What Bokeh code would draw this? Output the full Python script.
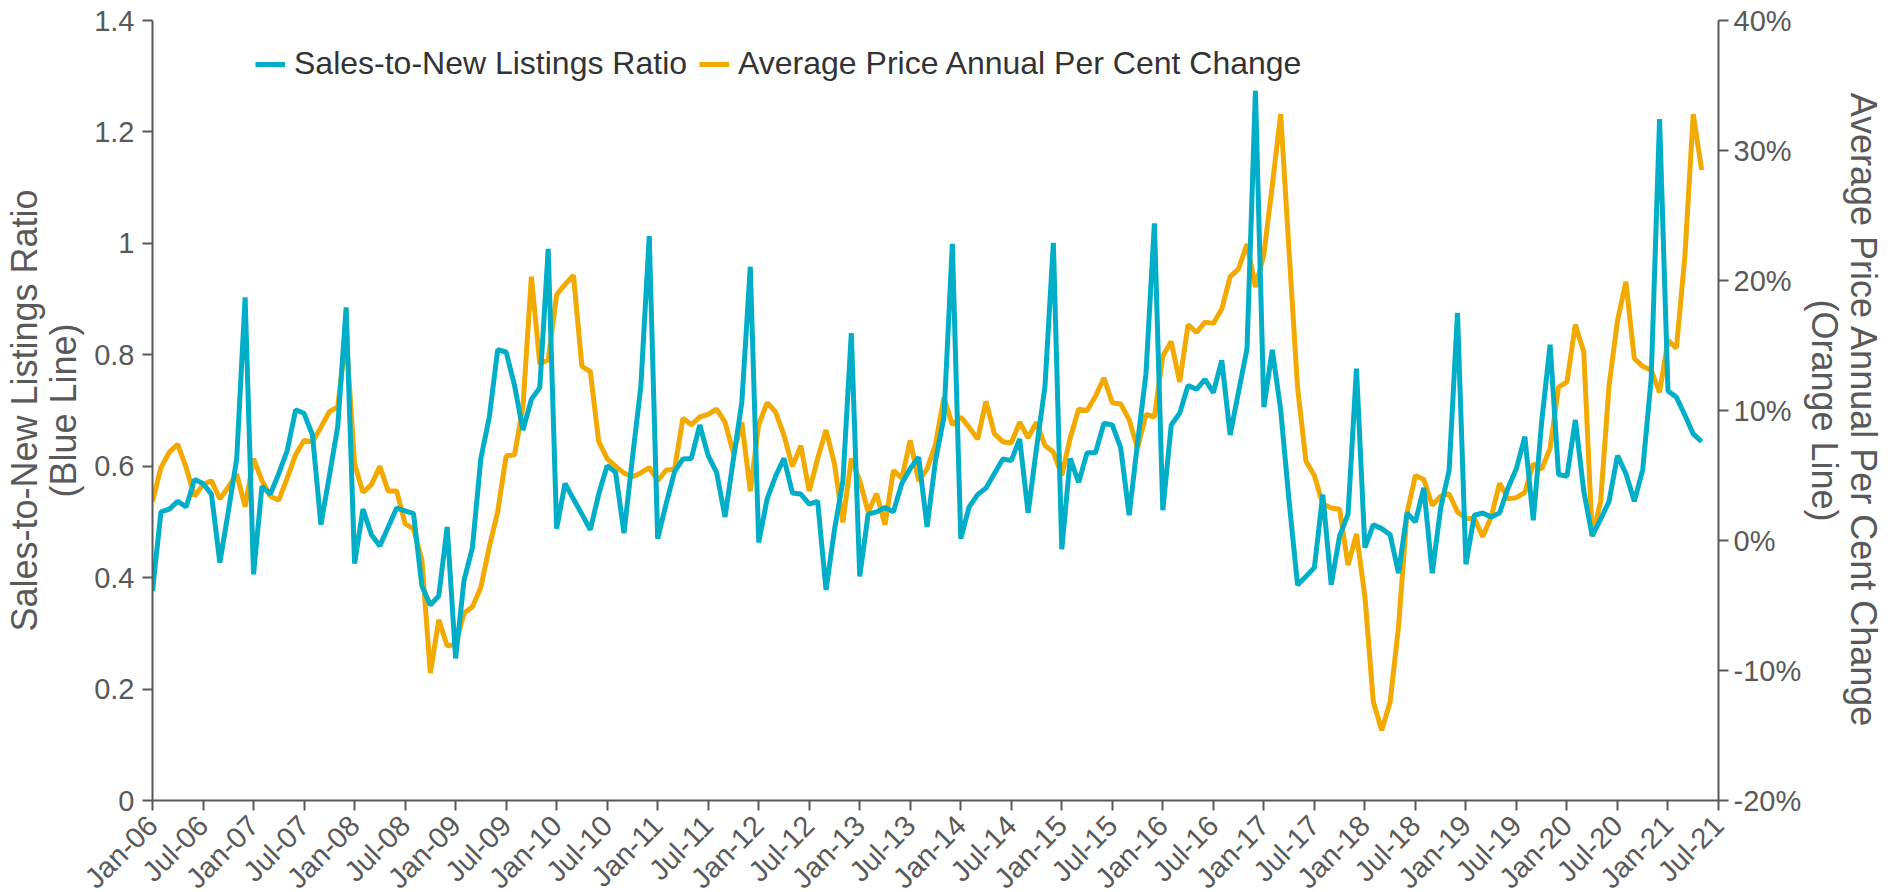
from bokeh.plotting import figure
from bokeh.models import (Range1d, LinearAxis, FixedTicker, CustomJSTickFormatter,
                          Legend, LegendItem)
from bokeh.embed import file_html
from bokeh.resources import INLINE
import math

# ---------------- data ----------------
tick_labels = ["Jan-06", "Jul-06", "Jan-07", "Jul-07", "Jan-08", "Jul-08", "Jan-09", "Jul-09",
               "Jan-10", "Jul-10", "Jan-11", "Jul-11", "Jan-12", "Jul-12", "Jan-13", "Jul-13",
               "Jan-14", "Jul-14", "Jan-15", "Jul-15", "Jan-16", "Jul-16", "Jan-17", "Jul-17",
               "Jan-18", "Jul-18", "Jan-19", "Jul-19", "Jan-20", "Jul-20", "Jan-21", "Jul-21"]

# Sales-to-New Listings Ratio, monthly from Jan-06
snlr = [0.376, 0.518, 0.523, 0.537, 0.527, 0.576, 0.569, 0.550, 0.427, 0.518, 0.613, 0.903,
        0.406, 0.564, 0.550, 0.587, 0.628, 0.701, 0.695, 0.656, 0.495, 0.582, 0.671, 0.885,
        0.425, 0.523, 0.477, 0.457, 0.491, 0.525, 0.520, 0.515, 0.385, 0.351, 0.367, 0.491,
        0.255, 0.395, 0.454, 0.614, 0.688, 0.809, 0.805, 0.745, 0.665, 0.720, 0.741, 0.990,
        0.488, 0.569, 0.541, 0.514, 0.486, 0.550, 0.601, 0.589, 0.480, 0.614, 0.743, 1.013,
        0.470, 0.532, 0.590, 0.613, 0.614, 0.674, 0.619, 0.589, 0.509, 0.613, 0.715, 0.958,
        0.463, 0.541, 0.582, 0.614, 0.552, 0.550, 0.532, 0.537, 0.378, 0.486, 0.573, 0.839,
        0.402, 0.514, 0.518, 0.526, 0.518, 0.569, 0.596, 0.616, 0.491, 0.610, 0.688, 0.999,
        0.470, 0.527, 0.549, 0.561, 0.587, 0.613, 0.610, 0.649, 0.516, 0.633, 0.743, 1.001,
        0.451, 0.614, 0.571, 0.624, 0.624, 0.677, 0.674, 0.633, 0.512, 0.642, 0.766, 1.036,
        0.521, 0.674, 0.695, 0.745, 0.738, 0.756, 0.732, 0.790, 0.656, 0.734, 0.811, 1.274,
        0.706, 0.809, 0.701, 0.537, 0.387, 0.402, 0.418, 0.549, 0.387, 0.475, 0.514, 0.775,
        0.454, 0.495, 0.488, 0.477, 0.408, 0.516, 0.500, 0.561, 0.408, 0.525, 0.592, 0.875,
        0.424, 0.512, 0.516, 0.509, 0.516, 0.561, 0.596, 0.653, 0.503, 0.680, 0.818, 0.585,
        0.582, 0.683, 0.555, 0.475, 0.505, 0.537, 0.619, 0.587, 0.537, 0.594, 0.756, 1.223,
        0.735, 0.724, 0.692, 0.658, 0.644]

# Average Price Annual Per Cent Change (%), monthly from Jan-06
price_chg = [3.0, 5.6, 6.8, 7.4, 5.6, 3.4, 4.3, 4.6, 3.2, 4.1, 5.1, 2.6,
             6.3, 4.6, 3.4, 3.1, 4.8, 6.6, 7.7, 7.6, 8.7, 9.9, 10.3, 15.8,
             5.9, 3.7, 4.3, 5.7, 3.8, 3.8, 1.3, 0.9, -1.5, -10.2, -6.1, -8.1,
             -8.0, -5.6, -5.1, -3.6, -0.5, 2.2, 6.5, 6.6, 10.3, 20.3, 13.6, 13.9,
             18.9, 19.7, 20.4, 13.4, 13.0, 7.6, 6.3, 5.7, 5.2, 4.9, 5.2, 5.6,
             4.6, 5.4, 5.5, 9.4, 8.9, 9.5, 9.7, 10.1, 9.1, 6.7, 9.1, 3.8,
             8.9, 10.6, 9.9, 8.1, 5.7, 7.3, 3.8, 6.3, 8.5, 5.9, 1.4, 6.3,
             4.6, 2.2, 3.6, 1.2, 5.4, 4.8, 7.7, 4.6, 5.5, 7.4, 11.0, 8.9,
             9.5, 8.7, 7.8, 10.7, 8.2, 7.6, 7.5, 9.1, 7.9, 9.1, 7.3, 6.8,
             5.0, 7.9, 10.1, 10.0, 11.1, 12.5, 10.6, 10.5, 9.3, 7.1, 9.7, 9.5,
             14.2, 15.3, 12.2, 16.6, 16.0, 16.8, 16.7, 17.8, 20.3, 20.9, 22.8, 19.5,
             22.0, 27.3, 32.8, 22.2, 11.8, 6.1, 5.0, 2.8, 2.5, 2.4, -1.9, 0.5,
             -4.3, -12.4, -14.6, -12.4, -6.6, 2.1, 5.0, 4.7, 2.7, 3.4, 3.6, 2.2,
             1.7, 1.7, 0.3, 1.8, 4.4, 3.2, 3.3, 3.7, 5.9, 5.5, 7.1, 11.8,
             12.2, 16.6, 14.5, 0.3, 3.0, 11.9, 16.9, 19.9, 14.0, 13.4, 13.1, 11.4,
             15.4, 14.8, 21.8, 32.8, 28.5]

months = list(range(len(snlr)))
tick_pos = [6 * i for i in range(len(tick_labels))]

BLUE = "#00AEC7"
ORANGE = "#F2A900"
AXIS_COL = "#595959"
TEXT_COL = "#595959"
FONT = "Liberation Sans"

p = figure(frame_width=1566, frame_height=780, output_backend="svg", toolbar_location=None,
           x_range=Range1d(0, 186), y_range=Range1d(0, 1.4),
           min_border_left=152, min_border_right=168, min_border_top=20, min_border_bottom=20)
p.outline_line_color = None
p.xgrid.grid_line_color = None
p.ygrid.grid_line_color = None
p.extra_y_ranges = {"pct": Range1d(-20, 40)}

orange_r = p.line(months, price_chg, y_range_name="pct", line_color=ORANGE, line_width=5)
blue_r = p.line(months, snlr, line_color=BLUE, line_width=5)

# x axis
xa = p.xaxis[0]
xa.ticker = FixedTicker(ticks=tick_pos)
xa.major_label_overrides = {t: l for t, l in zip(tick_pos, tick_labels)}
xa.major_label_orientation = math.pi / 4
xa.minor_tick_line_color = None

# left axis
ya = p.yaxis[0]
ya.ticker = FixedTicker(ticks=[0, 0.2, 0.4, 0.6, 0.8, 1.0, 1.2, 1.4])
ya.formatter = CustomJSTickFormatter(code="return tick.toFixed(1).replace(/\\.0$/, '');")
ya.axis_label = "Sales-to-New Listings Ratio\n(Blue Line)"
ya.minor_tick_line_color = None

# right axis
ra = LinearAxis(y_range_name="pct", axis_label="Average Price Annual Per Cent Change\n(Orange Line)")
ra.ticker = FixedTicker(ticks=[-20, -10, 0, 10, 20, 30, 40])
ra.formatter = CustomJSTickFormatter(code="return tick.toFixed(0) + '%';")
ra.minor_tick_line_color = None
p.add_layout(ra, "right")

for ax in [xa, ya, ra]:
    ax.axis_line_color = AXIS_COL
    ax.axis_line_width = 2
    ax.major_tick_line_color = AXIS_COL
    ax.major_tick_line_width = 2
    ax.major_tick_out = 10
    ax.major_tick_in = 0
    ax.major_label_text_font = FONT
    ax.major_label_text_font_size = "29px"
    ax.major_label_text_color = TEXT_COL
    ax.axis_label_text_font = FONT
    ax.axis_label_text_font_size = "36px"
    ax.axis_label_text_font_style = "normal"
    ax.axis_label_text_color = TEXT_COL
    ax.axis_label_text_line_height = 0.95

xa.major_label_standoff = 10
ya.major_label_standoff = 8
ya.axis_label_standoff = 7
ra.major_label_standoff = 5
ra.axis_label_standoff = 0

legend = Legend(items=[LegendItem(label="Sales-to-New Listings Ratio", renderers=[blue_r]),
                       LegendItem(label="Average Price Annual Per Cent Change", renderers=[orange_r])],
                orientation="horizontal", location=(103, 718))
legend.border_line_color = None
legend.background_fill_alpha = 0
legend.label_text_font = FONT
legend.label_text_font_size = "32px"
legend.label_text_color = "#333333"
legend.glyph_width = 30
legend.label_standoff = 9
legend.spacing = 12
legend.padding = 0
legend.margin = 0
p.add_layout(legend, "center")

open("out.html", "w").write(file_html(p, INLINE))
